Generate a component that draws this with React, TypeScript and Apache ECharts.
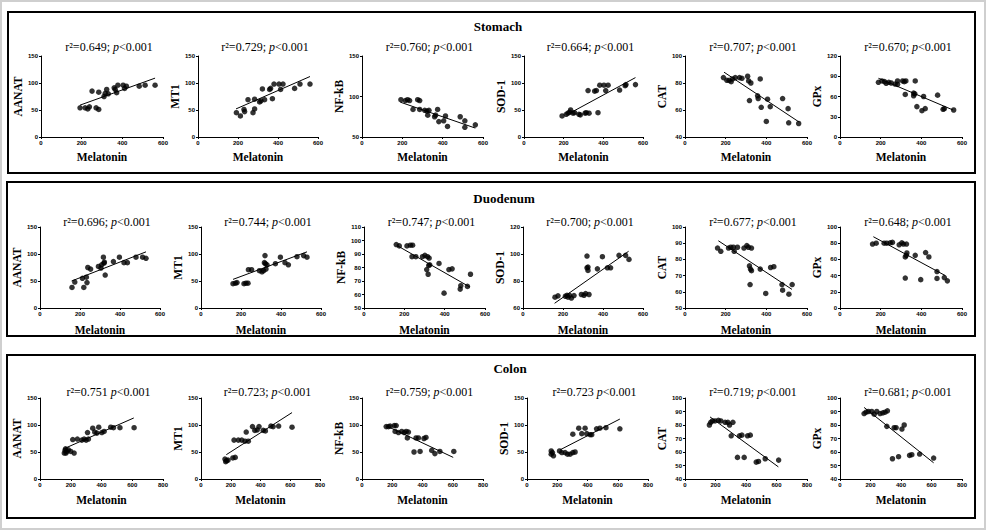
import React, { useEffect, useRef } from "react";
import * as echarts from "echarts";

// ---------- categories / labels ----------
const organs = ["Stomach", "Duodenum", "Colon"];
const markers = ["AANAT", "MT1", "NF-kB", "SOD-1", "CAT", "GPx"];
const xAxisName = "Melatonin";

const stomachStats = ["r²=0.649; p<0.001", "r²=0.729; p<0.001", "r²=0.760; p<0.001", "r²=0.664; p<0.001", "r²=0.707; p<0.001", "r²=0.670; p<0.001"];
const duodenumStats = ["r²=0.696; p<0.001", "r²=0.744; p<0.001", "r²=0.747; p<0.001", "r²=0.700; p<0.001", "r²=0.677; p<0.001", "r²=0.648; p<0.001"];
const colonStats = ["r²=0.751 p<0.001", "r²=0.723; p<0.001", "r²=0.759; p<0.001", "r²=0.723 p<0.001", "r²=0.719; p<0.001", "r²=0.681; p<0.001"];

// ---------- axis ranges ----------
const stomachXMax = 600;
const duodenumXMax = 600;
const colonXMax = 800;
const xStep = 200;
const stomachYMin = [0, 0, 50, 0, 40, 0];
const stomachYMax = [150, 150, 150, 150, 100, 120];
const stomachYStep = [50, 50, 50, 50, 20, 30];
const duodenumYMin = [0, 0, 50, 60, 50, 0];
const duodenumYMax = [150, 150, 110, 120, 100, 100];
const duodenumYStep = [50, 50, 10, 20, 10, 20];
const colonYMin = [0, 0, 0, 0, 40, 40];
const colonYMax = [150, 150, 150, 150, 100, 100];
const colonYStep = [50, 50, 50, 50, 10, 10];

// ---------- Stomach data ----------
const sAANAT = [[192,54],[217,54],[230,52],[238,56],[251,85],[271,54],[284,51],[284,83],[310,75],[316,81],[323,88],[331,80],[360,91],[365,88],[372,82],[378,96],[404,96],[411,90],[420,94],[483,94],[512,96],[561,96]];
const sAANATFit = [[192,59],[561,109]];
const sMT1 = [[192,45],[212,39],[230,51],[233,47],[250,69],[275,45],[283,52],[283,70],[308,65],[315,67],[322,89],[333,69],[358,88],[363,90],[372,71],[380,98],[405,98],[413,88],[425,98],[483,90],[510,98],[560,98]];
const sMT1Fit = [[190,52],[560,112]];
const sNFkB = [[193,96],[215,95],[226,96],[236,95],[253,84],[276,96],[286,95],[286,84],[311,83],[322,82],[326,77],[332,83],[360,75],[365,77],[375,84],[381,69],[405,70],[414,76],[424,63],[487,75],[510,70],[510,62],[562,65]];
const sNFkBFit = [[190,93],[562,61]];
const sSOD1 = [[192,39],[213,42],[222,44],[230,46],[235,50],[247,44],[255,45],[277,42],[284,41],[308,44],[314,45],[323,86],[328,44],[356,85],[365,86],[373,45],[382,96],[403,96],[412,86],[424,96],[482,87],[510,95],[514,97],[562,97]];
const sSOD1Fit = [[230,44],[562,110]];
const sCAT = [[189,84],[206,82],[217,82],[227,81],[234,83],[247,84],[268,84],[280,83.5],[308,85],[313,81.5],[324,80],[317,67],[357,70.5],[360,68.5],[370,83],[375,62],[406,68],[419,62.5],[400,51.5],[480,68.5],[507,61],[510,50.5],[559,50]];
const sCATFit = [[192,88],[562,51]];
const sGPx = [[189,81],[206,83],[219,82],[227,79.5],[240,81],[252,80],[271,78.5],[283,83],[283,78],[308,83],[316,82],[324,83],[321,63],[362,65],[362,61],[368,64],[370,83],[378,45],[403,39],[411,60],[419,42],[480,62],[507,41],[513,42],[559,40]];
const sGPxFit = [[189,87],[556,40]];

// ---------- Duodenum data ----------
const dAANAT = [[160,38],[174,48],[212,55],[219,38],[232,57],[235,47],[239,75],[253,72],[292,77],[305,74],[308,80],[317,94],[320,83],[322,85],[326,61],[367,86],[397,94],[420,84],[437,84],[480,94],[513,94],[530,92]];
const dAANATFit = [[158,50],[530,104]];
const dMT1 = [[160,45],[172,46],[180,47],[215,45],[225,46],[235,46],[237,71],[253,71],[292,69],[305,67],[313,69],[317,84],[320,97],[322,82],[325,72],[330,80],[372,82],[397,94],[420,84],[437,80],[480,95],[513,97],[530,94]];
const dMT1Fit = [[160,53],[530,104]];
const dNFkB = [[160,97],[175,96],[213,96],[230,96.5],[241,96.5],[238,88],[257,88],[290,88],[302,89],[315,88],[311,78.5],[318,75],[323,87],[326,82],[321,81.5],[372,83],[397,61],[421,78.5],[437,79],[477,64],[480,66.5],[513,66],[528,75]];
const dNFkBFit = [[167,96],[525,65.5]];
const dSOD1 = [[160,68],[175,69],[212,68.7],[220,69.4],[225,68],[233,69.4],[242,67.4],[255,69.2],[292,70],[305,69.4],[313,70.7],[320,89.8],[320,98.5],[325,90.3],[325,87.8],[330,70],[372,89],[397,98],[422,89.8],[438,89.8],[480,99],[513,99],[530,96]];
const dSOD1Fit = [[158,63.5],[528,102]];
const dCAT = [[160,87],[176,85],[214,87],[225,87.5],[238,87.5],[242,85],[258,87.5],[290,87],[304,88.5],[312,87.5],[327,87],[317,76],[322,74],[327,73],[320,64.5],[370,74],[421,75],[437,75.5],[397,59],[477,64.5],[480,61],[511,58.5],[527,64.5]];
const dCATFit = [[164,91.5],[526,61.5]];
const dGPx = [[160,79],[178,80],[217,80],[230,80],[247,80.5],[258,81],[291,78],[304,80.5],[312,79],[327,79],[321,63],[326,65],[329,68],[321,37],[370,65],[421,68.5],[437,63],[397,35],[477,45],[477,36.5],[513,37.5],[528,33.5]];
const dGPxFit = [[164,88],[518,40]];

// ---------- Colon data ----------
const cAANAT = [[158,48],[163,53],[166,56],[169,48],[175,51],[185,54],[200,51],[213,73],[222,48],[243,74],[272,72],[287,74],[300,72],[309,86],[315,74],[343,94],[356,87],[370,85],[382,96],[402,86],[417,88],[460,96],[478,95],[520,95],[612,95]];
const cAANATFit = [[163,57],[610,113]];
const cMT1 = [[161,37],[166,32],[172,34],[182,35],[214,39],[230,40],[222,72],[251,72],[274,72],[296,70],[318,70],[304,87],[346,97],[362,90],[378,91],[390,97],[418,90],[433,89],[470,98],[485,97],[522,98],[612,96]];
const cMT1Fit = [[170,45],[612,123]];
const cNFkB = [[160,97],[175,97],[186,98],[213,99],[226,99],[219,88],[241,86],[263,88],[279,86],[292,88],[307,87],[300,76],[344,50],[357,76],[373,76],[384,51],[410,75],[423,77],[461,53],[482,47],[515,51],[607,51]];
const cNFkBFit = [[164,98],[603,40]];
const cSOD1 = [[160,52],[160,46],[168,49],[175,43],[215,52],[230,49],[252,49],[268,46],[285,46],[303,49],[318,50],[303,83],[342,94],[362,84],[384,94],[395,84],[417,82],[428,82],[460,93],[482,94],[522,95],[614,93]];
const cSOD1Fit = [[219,54],[614,111]];
const cCAT = [[160,80],[169,82],[180,83],[197,83],[219,83.5],[235,83],[263,82],[281,82],[292,80],[314,82],[303,72],[357,72],[373,72.5],[410,72],[428,72.5],[344,56],[388,56],[467,52.5],[482,53],[526,55],[614,54]];
const cCATFit = [[164,86],[612,49]];
const cGPx = [[158,88.5],[171,89.5],[186,90],[208,90],[224,88],[241,90],[263,88.5],[281,89],[296,89.5],[311,90.5],[307,79],[355,78],[368,78],[406,77],[421,80],[344,55],[384,56.5],[456,57.5],[471,58],[522,58.5],[614,55.5]];
const cGPxFit = [[158,93],[614,52]];

// ---------- layout (positions only) ----------
const rows = [
  { top: 56, height: 81, lefts: [41, 198, 362, 524, 685, 840], widths: [122, 120, 121, 119, 122, 122], titleY: 47, xGap: 14, box: [8, 12, 967, 161], head: [498, 26],
    stats: stomachStats, xMax: stomachXMax, yMin: stomachYMin, yMax: stomachYMax, yStep: stomachYStep,
    points: [sAANAT, sMT1, sNFkB, sSOD1, sCAT, sGPx], fits: [sAANATFit, sMT1Fit, sNFkBFit, sSOD1Fit, sCATFit, sGPxFit] },
  { top: 227, height: 81, lefts: [40, 201, 364, 523, 685, 840], widths: [120, 120, 121, 120, 122, 122], titleY: 222, xGap: 16, box: [7, 182, 968, 154], head: [504, 198],
    stats: duodenumStats, xMax: duodenumXMax, yMin: duodenumYMin, yMax: duodenumYMax, yStep: duodenumYStep,
    points: [dAANAT, dMT1, dNFkB, dSOD1, dCAT, dGPx], fits: [dAANATFit, dMT1Fit, dNFkBFit, dSOD1Fit, dCATFit, dGPxFit] },
  { top: 398, height: 81, lefts: [40, 201, 362, 527, 685, 840], widths: [123, 119, 121, 121, 122, 122], titleY: 392, xGap: 15, box: [7, 355, 968, 163], head: [510, 368],
    stats: colonStats, xMax: colonXMax, yMin: colonYMin, yMax: colonYMax, yStep: colonYStep,
    points: [cAANAT, cMT1, cNFkB, cSOD1, cCAT, cGPx], fits: [cAANATFit, cMT1Fit, cNFkBFit, cSOD1Fit, cCATFit, cGPxFit] },
];

const SERIF = "'Liberation Serif', 'Times New Roman', serif";
const SANS = "'Liberation Sans', Arial, sans-serif";

function buildOption() {
  const grid: any[] = [];
  const xAxis: any[] = [];
  const yAxis: any[] = [];
  const series: any[] = [];
  const graphic: any[] = [];

  graphic.push({ type: "rect", shape: { x: 1, y: 1, width: 984, height: 528 }, style: { fill: "none", stroke: "#cfcfcf", lineWidth: 2 }, silent: true });

  rows.forEach((row, r) => {
    graphic.push({ type: "rect", shape: { x: row.box[0], y: row.box[1], width: row.box[2], height: row.box[3] }, style: { fill: "none", stroke: "#000", lineWidth: 2 }, silent: true });
    graphic.push({ type: "text", x: row.head[0], y: row.head[1], silent: true,
      style: { text: organs[r], fontFamily: SERIF, fontSize: 13, fontWeight: "bold", fill: "#000", align: "center", verticalAlign: "middle", textAlign: "center", textVerticalAlign: "middle" } });

    for (let c = 0; c < 6; c++) {
      const idx = r * 6 + c;
      const left = row.lefts[c];
      const width = row.widths[c];
      grid.push({ left, top: row.top, width, height: row.height, containLabel: false });
      const axisCommon = {
        gridIndex: idx,
        type: "value",
        axisLine: { show: true, onZero: false, lineStyle: { color: "#000", width: 1 } },
        axisTick: { show: true, length: 2, lineStyle: { color: "#000", width: 1 } },
        axisLabel: { fontFamily: SANS, fontSize: 6, fontWeight: "bold", color: "#000", margin: 3 },
        splitLine: { show: false },
        nameTextStyle: { fontFamily: SERIF, fontSize: 11.5, fontWeight: "bold", color: "#000" },
        nameLocation: "middle",
      };
      xAxis.push({ ...axisCommon, min: 0, max: row.xMax, interval: xStep, name: xAxisName, nameGap: row.xGap });
      yAxis.push({ ...axisCommon, min: row.yMin[c], max: row.yMax[c], interval: row.yStep[c], name: markers[c], nameGap: 14, nameRotate: 90 });

      series.push({
        type: "line", xAxisIndex: idx, yAxisIndex: idx, data: row.fits[c], symbol: "none", silent: true,
        lineStyle: { color: "#000", width: 1 }, z: 2,
      });
      series.push({
        type: "scatter", xAxisIndex: idx, yAxisIndex: idx, data: row.points[c], symbol: "circle", symbolSize: 5.5, silent: true,
        itemStyle: { color: "#000" }, z: 3,
      });

      const statText = row.stats[c].replace("p<", "{i|p}<");
      graphic.push({ type: "text", x: left + width / 2 + 7, y: row.titleY, silent: true,
        style: { text: statText, fontFamily: SERIF, fontSize: 12, fill: "#000", align: "center", verticalAlign: "middle", textAlign: "center", textVerticalAlign: "middle",
          rich: { i: { fontFamily: SERIF, fontSize: 12, fontStyle: "italic", fill: "#000", color: "#000" } } } });
    }
  });

  return { animation: false, backgroundColor: "#fff", grid, xAxis, yAxis, series, graphic };
}

export default function App() {
  const ref = useRef<HTMLDivElement>(null);
  useEffect(() => {
    if (!ref.current) return;
    const chart = echarts.init(ref.current, null, { renderer: "svg" });
    chart.setOption(buildOption() as any);
    return () => chart.dispose();
  }, []);
  return <div ref={ref} style={{ position: "fixed", left: 0, top: 0, width: 987, height: 531, background: "#fff" }} />;
}
